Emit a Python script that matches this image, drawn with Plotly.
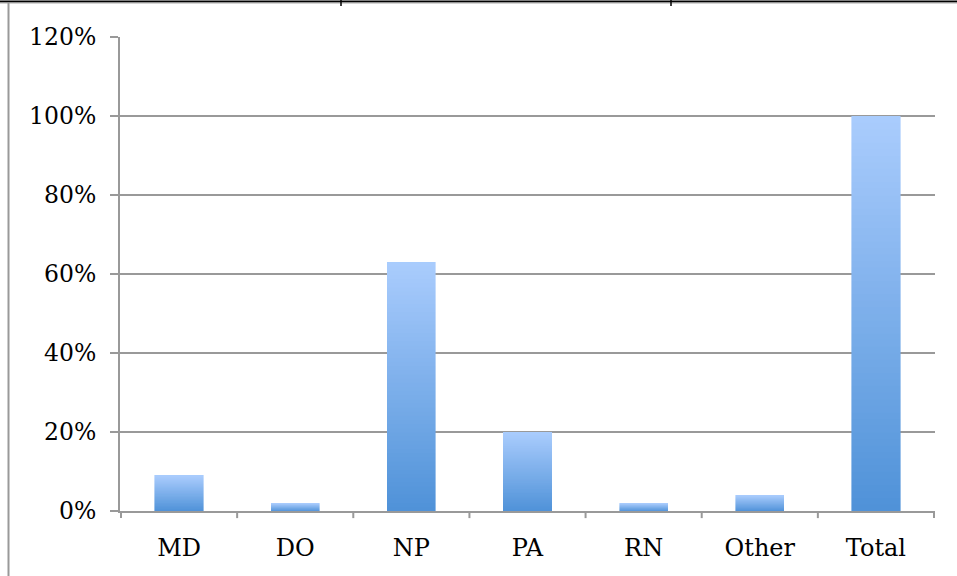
import plotly.graph_objects as go

categories = ["MD", "DO", "NP", "PA", "RN", "Other", "Total"]
values = [9, 2, 63, 20, 2, 4, 100]
y_ticks = [0, 20, 40, 60, 80, 100, 120]
y_tick_labels = ["0%", "20%", "40%", "60%", "80%", "100%", "120%"]

dark = (79, 146, 216)
light = (170, 204, 253)
N = 60

fig = go.Figure()
for k in range(N):
    t = (k + 0.5) / N
    c = tuple(round(dark[j] + (light[j] - dark[j]) * t) for j in range(3))
    col = "rgb(%d,%d,%d)" % c
    fig.add_trace(go.Bar(
        x=categories,
        y=[v / N for v in values],
        marker=dict(color=col, line=dict(color=col, width=0.6)),
        hoverinfo="skip",
        showlegend=False,
    ))

fig.update_layout(
    barmode="stack",
    bargap=0.585,
    width=957,
    height=576,
    margin=dict(l=120, r=22, t=37, b=65),
    plot_bgcolor="white",
    paper_bgcolor="white",
    font=dict(family="DejaVu Serif", size=23, color="black"),
    xaxis=dict(
        showline=True, linecolor="#999999", linewidth=2,
        ticks="", showgrid=False,
        tickfont=dict(family="DejaVu Serif", size=24),
        ticklabelstandoff=14,
    ),
    yaxis=dict(
        range=[0, 120],
        tickvals=y_ticks, ticktext=y_tick_labels,
        showline=True, linecolor="#999999", linewidth=2,
        ticks="outside", ticklen=8, tickcolor="#999999", tickwidth=2,
        showgrid=True, gridcolor="#999999", gridwidth=2,
        zeroline=False,
        tickfont=dict(family="DejaVu Serif", size=23.5),
        ticklabelstandoff=9,
    ),
)

# category boundary ticks on the x axis
n = len(categories)
for i in range(n + 1):
    fig.add_shape(type="line", xref="x", yref="paper",
                  x0=i - 0.5, x1=i - 0.5, y0=0, y1=-0.015,
                  line=dict(color="#999999", width=2))

# surrounding frame (table cell borders)
fig.add_shape(type="line", xref="paper", yref="paper",
              x0=-120/815, x1=1 + 22/815, y0=1 + 35.5/474, y1=1 + 35.5/474,
              line=dict(color="black", width=2))
fig.add_shape(type="line", xref="paper", yref="paper",
              x0=-120/815, x1=1 + 22/815, y0=1 + 34/474, y1=1 + 34/474,
              line=dict(color="#aaaaaa", width=1))
for px in [341, 671]:
    fig.add_shape(type="line", xref="paper", yref="paper",
                  x0=(px - 120)/815, x1=(px - 120)/815,
                  y0=1 + 37/474, y1=1 + 31/474,
                  line=dict(color="black", width=1.5))
fig.add_shape(type="line", xref="paper", yref="paper",
              x0=-111.5/815, x1=-111.5/815, y0=1 + 34/474, y1=-65/474,
              line=dict(color="#999999", width=2))

fig.write_html("out.html")
